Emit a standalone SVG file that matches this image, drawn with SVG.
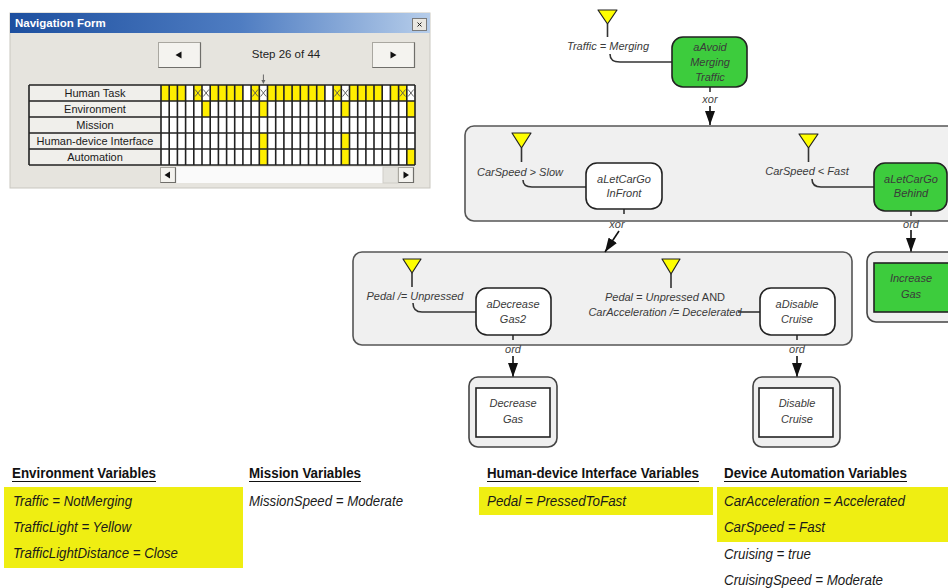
<svg xmlns="http://www.w3.org/2000/svg" width="948" height="588" viewBox="0 0 948 588">
  <style>
    text { font-family: "Liberation Sans", Arial, sans-serif; }
    .form-label { font-size: 11px; fill: #1a1a1a; text-anchor: middle; }
    .form-text { font-size: 11.5px; fill: #222; }
    .title { font-size: 11.5px; font-weight: bold; fill: #ffffff; }
    .lbl { font-size: 11px; font-style: italic; fill: #3a3a3a; }
    .mid { text-anchor: middle; }
    .op { font-size: 11px; font-style: italic; fill: #444; text-anchor: middle; }
    .guard { fill: #ffff00; stroke: #222; stroke-width: 1.2; stroke-linejoin: round; }
    .stem { stroke: #333; stroke-width: 1.6; fill: none; }
    .link { stroke: #333; stroke-width: 1.6; fill: none; }
    .arrow { stroke: #111; stroke-width: 1.6; fill: none; marker-end: url(#arrowhead); }
    .act { stroke: #222; stroke-width: 1.6; }
    .green { fill: #3dcc3d; }
    .white { fill: #ffffff; }
    .scope { fill: #f0f0f0; stroke: #555; stroke-width: 1.6; }
    .frame { fill: #efefef; stroke: #444; stroke-width: 1.6; }
    .head { font-size: 14px; font-weight: bold; fill: #111; }
    .val { font-size: 14px; font-style: italic; fill: #1a1a1a; }
    .hl { fill: #efee12; }
    .uline { stroke: #111; stroke-width: 1.2; }
    .cell-y { fill: #ffee00; }
    .btn { fill: #f4f3ef; stroke: #a9a7a0; stroke-width: 1; }
    .btn-shade { fill: none; stroke: #6f6e6a; stroke-width: 1.2; }
    .glyph { fill: #111; }
  </style>
  <defs>
    <marker id="arrowhead" viewBox="0 0 14 10" refX="14" refY="5" markerWidth="14" markerHeight="10" markerUnits="userSpaceOnUse" orient="auto">
      <path d="M0,0 L14,5 L0,10 z" fill="#111"/>
    </marker>
    <linearGradient id="titlebar" x1="0" y1="0" x2="1" y2="0">
      <stop offset="0" stop-color="#1d4f9f"/>
      <stop offset="0.55" stop-color="#4f7dc2"/>
      <stop offset="1" stop-color="#b6cdea"/>
    </linearGradient>
  </defs>

  <rect width="948" height="588" fill="#ffffff"/>

  <!-- Navigation form window -->
  <g id="navigation-form">
    <rect x="10" y="13" width="420" height="175" fill="#e6e4de" stroke="#c9c7c0"/>
    <rect x="10" y="13" width="420" height="20" fill="url(#titlebar)"/>
    <text class="title" x="15" y="27">Navigation Form</text>
    <g id="close-button">
      <rect x="412.5" y="18.5" width="14" height="12" fill="#e9e7e1" stroke="#7a7a7a"/>
      <path d="M417.5,22.5 L421.5,26.5 M421.5,22.5 L417.5,26.5" stroke="#222" stroke-width="1"/>
    </g>

    <g id="btn-prev">
      <rect class="btn" x="158.5" y="42.5" width="42" height="25"/>
      <path class="btn-shade" d="M200.5,42.5V67.5H158.5"/>
      <polygon class="glyph" points="175.5,55 181.5,51.5 181.5,58.5"/>
    </g>
    <text class="form-text" x="286" y="58" text-anchor="middle">Step 26 of 44</text>
    <g id="btn-next">
      <rect class="btn" x="372.5" y="42.5" width="42" height="25"/>
      <path class="btn-shade" d="M414.5,42.5V67.5H372.5"/>
      <polygon class="glyph" points="390.5,51.5 390.5,58.5 396.5,55"/>
    </g>

    <!-- current step marker -->
    <path d="M263.4,74.5V81" stroke="#666" stroke-width="1"/>
    <polygon points="261.4,80 265.4,80 263.4,84" fill="#666"/>

    <!-- row labels -->
    <g id="row-labels">
      <rect x="29" y="85" width="132" height="80" fill="#f0efeb"/>
      <text class="form-label" x="95" y="97">Human Task</text>
      <text class="form-label" x="95" y="113">Environment</text>
      <text class="form-label" x="95" y="129">Mission</text>
      <text class="form-label" x="95" y="145">Human-device Interface</text>
      <text class="form-label" x="95" y="161">Automation</text>
    </g>

    <!-- step cells -->
    <g id="step-grid">
      <rect x="161" y="85" width="254" height="80" fill="#ffffff"/>
      <!-- Human Task row -->
      <rect class="cell-y" x="161" y="85" width="24.6" height="16"/>
      <rect class="cell-y" x="193.8" y="85" width="8.2" height="16"/>
      <rect class="cell-y" x="210.2" y="85" width="32.7" height="16"/>
      <rect class="cell-y" x="251.1" y="85" width="8.2" height="16"/>
      <rect class="cell-y" x="267.5" y="85" width="57.4" height="16"/>
      <rect class="cell-y" x="333.1" y="85" width="8.2" height="16"/>
      <rect class="cell-y" x="349.5" y="85" width="32.7" height="16"/>
      <rect class="cell-y" x="390.4" y="85" width="16.4" height="16"/>
      <!-- Environment row -->
      <rect class="cell-y" x="202" y="101" width="8.2" height="16"/>
      <rect class="cell-y" x="259.3" y="101" width="8.2" height="16"/>
      <rect class="cell-y" x="341.3" y="101" width="8.2" height="16"/>
      <rect class="cell-y" x="406.8" y="101" width="8.2" height="16"/>
      <!-- Human-device Interface row -->
      <rect class="cell-y" x="259.3" y="133" width="8.2" height="16"/>
      <rect class="cell-y" x="341.3" y="133" width="8.2" height="16"/>
      <!-- Automation row -->
      <rect class="cell-y" x="259.3" y="149" width="8.2" height="16"/>
      <rect class="cell-y" x="341.3" y="149" width="8.2" height="16"/>
      <rect class="cell-y" x="406.8" y="149" width="8.2" height="16"/>
      <!-- crossed cells -->
      <path d="M195.1,89.5L200.7,96.5M200.7,89.5L195.1,96.5 M203.3,89.5L208.9,96.5M208.9,89.5L203.3,96.5 M252.4,89.5L258,96.5M258,89.5L252.4,96.5 M260.6,89.5L266.2,96.5M266.2,89.5L260.6,96.5 M334.4,89.5L340,96.5M340,89.5L334.4,96.5 M342.6,89.5L348.2,96.5M348.2,89.5L342.6,96.5 M399.9,89.5L405.5,96.5M405.5,89.5L399.9,96.5 M408.1,89.5L413.7,96.5M413.7,89.5L408.1,96.5" stroke="#555" stroke-width="0.9" fill="none"/>
      <!-- grid lines -->
      <path d="M29,85H415M29,101H415M29,117H415M29,133H415M29,149H415M29,165H415
               M29,85V165M161,85V165M169.2,85V165M177.4,85V165M185.6,85V165M193.8,85V165M202,85V165
               M210.2,85V165M218.4,85V165M226.6,85V165M234.7,85V165M242.9,85V165M251.1,85V165
               M259.3,85V165M267.5,85V165M275.7,85V165M283.9,85V165M292.1,85V165M300.3,85V165
               M308.5,85V165M316.7,85V165M324.9,85V165M333.1,85V165M341.3,85V165M349.5,85V165
               M357.7,85V165M365.9,85V165M374,85V165M382.2,85V165M390.4,85V165M398.6,85V165
               M406.8,85V165M415,85V165" stroke="#222" stroke-width="1.6" fill="none"/>
    </g>

    <!-- horizontal scroll bar -->
    <g id="scrollbar">
      <rect x="176" y="167" width="222" height="16" fill="#fafafa"/>
      <rect x="383" y="167" width="15" height="16" fill="#e4e3de" stroke="#cfcdc7"/>
      <rect class="btn" x="160.5" y="167.5" width="15" height="15"/>
      <path class="btn-shade" d="M175.5,167.5V182.5H160.5"/>
      <polygon class="glyph" points="164.5,175 170,171.5 170,178.5"/>
      <rect class="btn" x="398.5" y="167.5" width="15" height="15"/>
      <path class="btn-shade" d="M413.5,167.5V182.5H398.5"/>
      <polygon class="glyph" points="403.5,171.5 403.5,178.5 409,175"/>
    </g>
  </g>

  <!-- Scope boxes -->
  <g id="scope-merge">
    <rect class="scope" x="465" y="126" width="500" height="95" rx="9"/>
  </g>
  <g id="scope-speed">
    <rect class="scope" x="353" y="252" width="499" height="93" rx="9"/>
  </g>

  <!-- Connectors -->
  <g id="connectors">
    <path class="link" d="M610,54 C610,60 613,62 620,62 L672,62"/>
    <path class="stem" d="M710,87V92"/>
    <path class="arrow" d="M710,106V125"/>

    <path class="link" d="M523,180 C523,185 526,187 532,187 L586,187"/>
    <path class="stem" d="M624,209V214"/>
    <path class="arrow" d="M619,231 L605,252"/>

    <path class="link" d="M812,179 C812,185 815,187 821,187 L874,187"/>
    <path class="stem" d="M911,211V216"/>
    <path class="arrow" d="M911,230V252"/>

    <path class="link" d="M413,303 C413,309 416,312 422,312 L476,312"/>
    <path class="stem" d="M513,335V340"/>
    <path class="arrow" d="M513,356V377"/>

    <path class="link" d="M738,312 L760,312"/>
    <path class="stem" d="M797,335V340"/>
    <path class="arrow" d="M797,356V377"/>

    <text class="op" x="710" y="103">xor</text>
    <text class="op" x="617" y="228">xor</text>
    <text class="op" x="911" y="228">ord</text>
    <text class="op" x="513" y="353">ord</text>
    <text class="op" x="797" y="353">ord</text>
  </g>

  <!-- Guard conditions -->
  <g id="guard-traffic-merging">
    <polygon class="guard" points="598,10 617,10 607.5,24"/>
    <path class="stem" d="M607.5,24V37"/>
    <text class="lbl mid" x="608" y="50">Traffic = Merging</text>
  </g>
  <g id="guard-speed-slow">
    <polygon class="guard" points="512,133 531,133 521.5,148"/>
    <path class="stem" d="M521.5,148V162"/>
    <text class="lbl mid" x="520" y="176">CarSpeed &gt; Slow</text>
  </g>
  <g id="guard-speed-fast">
    <polygon class="guard" points="799,134 818,134 808.5,148"/>
    <path class="stem" d="M808.5,148V162"/>
    <text class="lbl mid" x="807" y="175">CarSpeed &lt; Fast</text>
  </g>
  <g id="guard-pedal-pressed">
    <polygon class="guard" points="403,259 421,259 412,273"/>
    <path class="stem" d="M412,273V287"/>
    <text class="lbl mid" x="415" y="300">Pedal /= Unpressed</text>
  </g>
  <g id="guard-pedal-unpressed">
    <polygon class="guard" points="662,259 680,259 671,274"/>
    <path class="stem" d="M671,274V288"/>
    <text class="lbl mid" x="665" y="301">Pedal = Unpressed <tspan font-style="normal">AND</tspan></text>
    <text class="lbl mid" x="665" y="316">CarAcceleration /= Decelerated</text>
  </g>

  <!-- Activities -->
  <g id="act-avoid-merging-traffic">
    <rect class="act green" x="672" y="37" width="75" height="50" rx="11"/>
    <text class="lbl mid" x="710" y="51">aAvoid</text>
    <text class="lbl mid" x="710" y="66">Merging</text>
    <text class="lbl mid" x="710" y="81">Traffic</text>
  </g>
  <g id="act-let-car-go-infront">
    <rect class="act white" x="586" y="163" width="76" height="46" rx="11"/>
    <text class="lbl mid" x="624" y="183">aLetCarGo</text>
    <text class="lbl mid" x="624" y="197">InFront</text>
  </g>
  <g id="act-let-car-go-behind">
    <rect class="act green" x="874" y="163" width="73" height="48" rx="11"/>
    <text class="lbl mid" x="911" y="183">aLetCarGo</text>
    <text class="lbl mid" x="911" y="197">Behind</text>
  </g>
  <g id="act-decrease-gas2">
    <rect class="act white" x="476" y="288" width="75" height="47" rx="11"/>
    <text class="lbl mid" x="513" y="308">aDecrease</text>
    <text class="lbl mid" x="513" y="323">Gas2</text>
  </g>
  <g id="act-disable-cruise">
    <rect class="act white" x="760" y="288" width="75" height="47" rx="11"/>
    <text class="lbl mid" x="797" y="308">aDisable</text>
    <text class="lbl mid" x="797" y="323">Cruise</text>
  </g>

  <!-- Actions -->
  <g id="action-increase-gas">
    <rect class="frame" x="867" y="252" width="100" height="70" rx="9"/>
    <rect class="act green" x="874" y="263" width="80" height="49"/>
    <text class="lbl mid" x="911" y="282">Increase</text>
    <text class="lbl mid" x="911" y="298">Gas</text>
  </g>
  <g id="action-decrease-gas">
    <rect class="frame" x="469" y="377" width="88" height="70" rx="9"/>
    <rect class="act white" x="476" y="388" width="74" height="49"/>
    <text class="lbl mid" x="513" y="407">Decrease</text>
    <text class="lbl mid" x="513" y="423">Gas</text>
  </g>
  <g id="action-disable-cruise">
    <rect class="frame" x="753" y="377" width="87" height="70" rx="9"/>
    <rect class="act white" x="759" y="388" width="74" height="49"/>
    <text class="lbl mid" x="797" y="407">Disable</text>
    <text class="lbl mid" x="797" y="423">Cruise</text>
  </g>

  <!-- Variable panels -->
  <g id="vars-environment">
    <text class="head" x="12" y="478" textLength="144" lengthAdjust="spacingAndGlyphs">Environment Variables</text>
    <line class="uline" x1="12" y1="481.5" x2="156" y2="481.5"/>
    <rect class="hl" x="4" y="487" width="239" height="81"/>
    <text class="val" x="13" y="506" textLength="119" lengthAdjust="spacingAndGlyphs">Traffic = NotMerging</text>
    <text class="val" x="13" y="532" textLength="118" lengthAdjust="spacingAndGlyphs">TrafficLight = Yellow</text>
    <text class="val" x="13" y="558" textLength="165" lengthAdjust="spacingAndGlyphs">TrafficLightDistance = Close</text>
  </g>
  <g id="vars-mission">
    <text class="head" x="249" y="478" textLength="112" lengthAdjust="spacingAndGlyphs">Mission Variables</text>
    <line class="uline" x1="249" y1="481.5" x2="361" y2="481.5"/>
    <text class="val" x="249" y="506" textLength="154" lengthAdjust="spacingAndGlyphs">MissionSpeed = Moderate</text>
  </g>
  <g id="vars-interface">
    <text class="head" x="487" y="478" textLength="212" lengthAdjust="spacingAndGlyphs">Human-device Interface Variables</text>
    <line class="uline" x1="487" y1="481.5" x2="699" y2="481.5"/>
    <rect class="hl" x="479" y="487" width="234" height="28"/>
    <text class="val" x="487" y="506" textLength="139" lengthAdjust="spacingAndGlyphs">Pedal = PressedToFast</text>
  </g>
  <g id="vars-automation">
    <text class="head" x="724" y="478" textLength="183" lengthAdjust="spacingAndGlyphs">Device Automation Variables</text>
    <line class="uline" x1="724" y1="481.5" x2="907" y2="481.5"/>
    <rect class="hl" x="717" y="487" width="231" height="55"/>
    <text class="val" x="724" y="506" textLength="181" lengthAdjust="spacingAndGlyphs">CarAcceleration = Accelerated</text>
    <text class="val" x="724" y="532" textLength="101" lengthAdjust="spacingAndGlyphs">CarSpeed = Fast</text>
    <text class="val" x="724" y="558.5" textLength="87" lengthAdjust="spacingAndGlyphs">Cruising = true</text>
    <text class="val" x="724" y="585" textLength="159" lengthAdjust="spacingAndGlyphs">CruisingSpeed = Moderate</text>
  </g>
</svg>
